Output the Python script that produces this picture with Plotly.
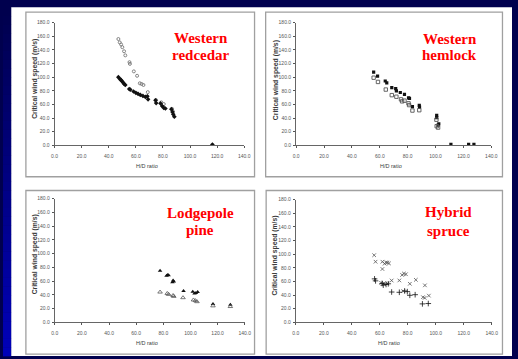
import plotly.graph_objects as go

W, H = 518, 359

# ---------------- data ----------------
x_tick_vals = [0, 20, 40, 60, 80, 100, 120, 140]
y_tick_vals = [0, 20, 40, 60, 80, 100, 120, 140, 160, 180]

panel_titles = [["Western", "redcedar"], ["Western", "hemlock"],
                ["Lodgepole", "pine"], ["Hybrid", "spruce"]]
x_title = "H/D ratio"
y_title = "Critical wind speed (m/s)"

# Western redcedar
rc_open_x = [47.1, 48.1, 49.1, 50.0, 51.3, 52.2, 55.3, 55.6, 58.5, 60.9, 62.9, 64.2, 65.6,
             68.8, 74.8, 78.8, 80.6, 86.7, 87.4]
rc_open_y = [156, 151, 148, 144, 138, 132, 122, 119.5, 108.5, 102, 91, 90, 88.5,
             78, 66.5, 63, 60.5, 53.5, 49.5]
rc_fill_x = [47.1, 48.1, 49.0, 49.8, 50.6, 51.4, 52.2, 55.1, 55.9, 58.3, 60.0, 61.6, 63.3,
             65.2, 67.0, 68.5, 69.0, 74.5, 75.0, 78.2, 79.4, 80.6, 81.8, 86.2, 87.0, 87.6,
             88.4, 116.5]
rc_fill_y = [100, 97.5, 96, 94, 92, 90, 88.5, 82.6, 81.6, 79, 77, 75.5, 74,
             72.5, 71, 72, 67.5, 66, 62, 61.5, 57.5, 55, 54, 53, 49, 45.5,
             42, 1.0]

# Western hemlock
wh_fill_x = [55.6, 58.4, 63.9, 65.0, 68.6, 71.4, 71.9, 74.7, 77.7, 80.6, 81.3, 83.4, 88.3,
             88.5, 100.8, 100.8, 102.3, 101.8, 111.0, 123.7, 127.5]
wh_fill_y = [107.4, 101.6, 94.4, 91.5, 84.7, 83.3, 80, 77.5, 74.6, 69.5, 69, 56.9, 58.7,
             56, 44, 40.5, 31.5, 29.5, 1.4, 1.2, 1.2]
wh_open_x = [55.6, 58.7, 64.3, 68.6, 71.9, 75.2, 76.0, 77.7, 80.6, 81.0, 83.4, 88.3,
             100.6, 100.8, 101.8]
wh_open_y = [99.2, 93, 81.8, 73.6, 71.3, 67.4, 64.5, 65.5, 61.6, 59, 51, 51.5,
             37.5, 28, 26]

# Lodgepole pine
lp_fill_x = [77.6, 82.4, 83.2, 83.9, 86.7, 87.2, 87.7, 94.9, 101.7, 103.0, 104.0, 105.3,
             116.6, 129.4]
lp_fill_y = [75, 67.8, 68.8, 68.5, 58.3, 61, 59.5, 45.4, 44.5, 42, 42.5, 44,
             26.5, 25.5]
lp_open_x = [77.6, 82.9, 83.9, 87.2, 87.7, 94.5, 102.2, 103.6, 104.8, 116.6, 129.4]
lp_open_y = [44, 42, 40.6, 39, 37.7, 35.8, 32.5, 31.5, 30, 23.9, 22.9]

# Hybrid spruce
hs_x_x = [56.0, 57.0, 61.9, 63.5, 64.5, 65.5, 66.6, 61.9, 76.0, 77.3, 78.7, 74.0, 81.5,
          85.8, 92.3, 90.9, 92.1, 95.1, 61.0, 62.8, 65.6, 68.5, 76.8]
hs_x_y = [98.5, 88.9, 88.9, 86, 88, 87.5, 86.5, 78.2, 69.5, 71.5, 70.5, 61.4, 56.5,
          62.3, 54.2, 36.8, 35.8, 39.1, 57.9, 57.0, 57.0, 61.3, 45.8]
hs_p_x = [56.3, 57.0, 61.7, 62.5, 64.5, 66.1, 68.5, 74.0, 77.8, 79.7, 81.5, 85.3, 90.5, 94.7]
hs_p_y = [63.7, 60.8, 57, 54.5, 55.5, 56.5, 44.4, 44, 46, 45, 39.6, 40.5, 27, 27.5]

# ---------------- layout geometry (pixels) ----------------
def fx(p):
    return p / W


def fy(p):
    return 1 - p / H


# axis domains: (x0, x1, y_top, y_bottom)
domains = [(52.5, 245.5, 20, 144.7), (298.3, 497.0, 20, 144.7),
           (52.7, 246.0, 199, 324.7), (298.0, 497.3, 200, 324.7)]
borders = [(23.3, 9.3, 256, 176.7), (267.3, 9.3, 508.3, 176.7),
           (23.3, 190.7, 256, 357), (267.8, 190.7, 508.3, 357)]
title_pos = [((202, 36), (201.3, 53.3)), ((454.7, 36.7), (454.7, 53.3)),
             ((201.3, 214), (200, 231.3)), ((453.7, 213), (453.3, 232))]
ytitle_pos = [(33, 76.7), (277.3, 78), (32.7, 255.5), (277, 256.7)]
xtitle_pos = [(147, 165.7), (395, 165.7), (146.7, 345.7), (393, 345.7)]

fig = go.Figure()

series = [
    (1, rc_open_x, rc_open_y, dict(symbol="circle-open", size=3, color="#777777", line=dict(width=0.9, color="#777777"))),
    (1, rc_fill_x, rc_fill_y, dict(symbol="diamond", size=3.6, color="#111111")),
    (2, wh_fill_x, wh_fill_y, dict(symbol="square", size=3.2, color="#111111")),
    (2, wh_open_x, wh_open_y, dict(symbol="square-open", size=3.4, color="#555555", line=dict(width=0.9, color="#555555"))),
    (3, lp_fill_x, lp_fill_y, dict(symbol="triangle-up", size=4, color="#111111")),
    (3, lp_open_x, lp_open_y, dict(symbol="triangle-up-open", size=4, color="#555555", line=dict(width=0.8, color="#555555"))),
    (4, hs_x_x, hs_x_y, dict(symbol="x-thin-open", size=3.6, color="#555555", line=dict(width=0.8, color="#555555"))),
    (4, hs_p_x, hs_p_y, dict(symbol="cross-thin-open", size=4, color="#111111", line=dict(width=0.8, color="#111111"))),
]
for k, xs, ys, mk in series:
    sfx = "" if k == 1 else str(k)
    fig.add_trace(go.Scatter(x=xs, y=ys, mode="markers", marker=mk,
                             xaxis="x" + sfx, yaxis="y" + sfx, showlegend=False,
                             hoverinfo="skip"))

layout = dict(width=W, height=H, margin=dict(l=0, r=0, t=0, b=0),
              paper_bgcolor="#00004e", plot_bgcolor="rgba(0,0,0,0)", showlegend=False)

tickfont = dict(family="Liberation Sans", size=5, color="#555555")
for i, (x0, x1, yt, yb) in enumerate(domains):
    sfx = "" if i == 0 else str(i + 1)
    layout["xaxis" + sfx] = dict(domain=[fx(x0), fx(x1)], range=[0, 140], anchor="y" + sfx,
                                 tickvals=x_tick_vals, tickformat=".1f", ticks="outside",
                                 ticklen=2, tickcolor="#555555", showgrid=False, zeroline=False,
                                 showline=True, linecolor="#666666", linewidth=1,
                                 tickfont=tickfont, ticklabelstandoff=4, fixedrange=True)
    layout["yaxis" + sfx] = dict(domain=[fy(yb), fy(yt)], range=[0, 180], anchor="x" + sfx,
                                 tickvals=y_tick_vals, tickformat=".1f", ticks="outside",
                                 ticklen=2, tickcolor="#555555", showgrid=False, zeroline=False,
                                 showline=True, linecolor="#666666", linewidth=1,
                                 tickfont=tickfont, ticklabelstandoff=1, fixedrange=True)

shapes = []
# white slide area
shapes.append(dict(type="rect", xref="paper", yref="paper", x0=fx(8.3), x1=1, y0=0, y1=fy(4.3),
                   fillcolor="#ffffff", line=dict(width=0), layer="below"))
# left blue gradient strip
n = 40
for j in range(n):
    t = j / (n - 1)
    r, g, b = 0, 0, int(0x4e + (0xb8 - 0x4e) * t)
    y0p = 4.3 + (H - 4.3) * j / n
    y1p = 4.3 + (H - 4.3) * (j + 1) / n
    shapes.append(dict(type="rect", xref="paper", yref="paper", x0=0, x1=fx(8.3),
                       y0=fy(y1p) - 0.001, y1=fy(y0p), fillcolor=f"rgb({r},{g},{b})",
                       line=dict(width=0), layer="below"))
# panel borders
for (bx0, by0, bx1, by1) in borders:
    shapes.append(dict(type="rect", xref="paper", yref="paper", x0=fx(bx0), x1=fx(bx1),
                       y0=fy(by1), y1=fy(by0), line=dict(color="#a0a0a0", width=1.3),
                       fillcolor="rgba(0,0,0,0)", layer="below"))
layout["shapes"] = shapes

ann = []
for i in range(4):
    for line_txt, (ax, ay) in zip(panel_titles[i], title_pos[i]):
        ann.append(dict(text=line_txt, x=fx(ax), y=fy(ay), xref="paper", yref="paper",
                        showarrow=False, xanchor="center", yanchor="middle",
                        font=dict(family="Liberation Serif", size=15, color="#ff0000",
                                  weight="bold")))
    tx, ty = ytitle_pos[i]
    ann.append(dict(text=y_title, x=fx(tx), y=fy(ty), xref="paper", yref="paper",
                    showarrow=False, textangle=-90, xanchor="center", yanchor="middle",
                    font=dict(family="Liberation Sans", size=6.8, color="#3a3a3a", weight="bold")))
    tx, ty = xtitle_pos[i]
    ann.append(dict(text=x_title, x=fx(tx), y=fy(ty), xref="paper", yref="paper",
                    showarrow=False, xanchor="center", yanchor="middle",
                    font=dict(family="Liberation Sans", size=5.5, color="#3a3a3a")))
layout["annotations"] = ann

fig.update_layout(**layout)
fig.write_html("out.html")
